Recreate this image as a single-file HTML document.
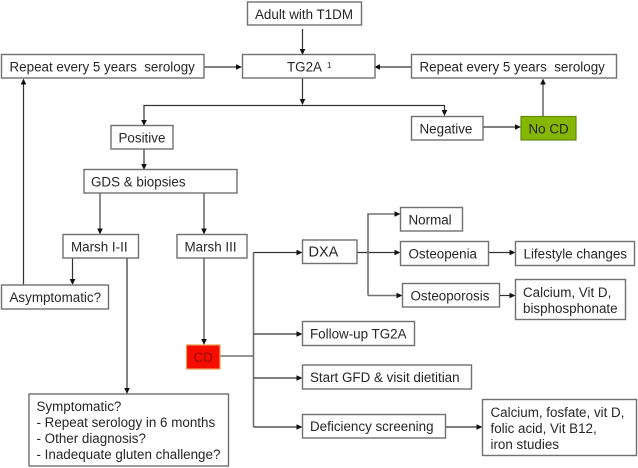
<!DOCTYPE html>
<html>
<head>
<meta charset="utf-8">
<style>
html,body{margin:0;padding:0;background:#fff;width:638px;height:468px;overflow:hidden}
svg{display:block}
text{font-family:"Liberation Sans",sans-serif;font-size:13.4px;fill:#262626}
.b{fill:#fff;stroke:#707070;stroke-width:1.4}
.l{fill:none;stroke:#333;stroke-width:1.2}
.g{fill:none;stroke:#707070;stroke-width:1.6}
.a{fill:#111;stroke:none}
</style>
</head>
<body>
<svg width="638" height="468" viewBox="0 0 638 468" xmlns="http://www.w3.org/2000/svg">
<!-- connectors -->
<path class="l" d="M302.5 29V50"/><path class="a" d="M302.5 55l-2.8-6h5.6z"/>
<path class="l" d="M204 67H237"/><path class="a" d="M242 67l-6-2.8v5.6z"/>
<path class="l" d="M411 67H378"/><path class="a" d="M374 67l6-2.8v5.6z"/>
<path class="l" d="M302.5 78V100"/><path class="a" d="M302.5 105l-2.8-6h5.6z"/>
<path class="l" d="M144 120V105.500H444.500V111"/><path class="a" d="M144 126l-2.800-6h5.600z"/><path class="a" d="M444.500 116l-2.800-6h5.600z"/>
<path class="l" d="M144 149V165"/><path class="a" d="M144 170l-2.800-6h5.600z"/>
<path class="g" d="M100 193V229"/><path class="a" d="M100 234.500l-2.800-6h5.600z"/>
<path class="g" d="M204 193V229"/><path class="a" d="M204 234.500l-2.800-6h5.600z"/>
<path class="l" d="M483 127H516"/><path class="a" d="M521 127l-6-2.800v5.600z"/>
<path class="g" d="M543 116V84"/><path class="a" d="M543 78.500l-2.800 6h5.600z"/>
<path class="l" d="M23.500 285V84"/><path class="a" d="M23.500 78.500l-2.800 6h5.600z"/>
<path class="l" d="M72.500 258V280"/><path class="a" d="M72.500 285l-2.800-6h5.600z"/>
<path class="l" d="M127 258V389"/><path class="a" d="M127 394l-2.800-6h5.600z"/>
<path class="g" d="M204 258V340"/><path class="a" d="M204 345l-2.800-6h5.600z"/>
<path class="g" d="M220 356H253.500"/>
<path class="g" d="M253.500 252.500V427"/>
<path class="l" d="M253.500 252.500H297"/><path class="a" d="M302.500 252.500l-6-2.800v5.600z"/>
<path class="l" d="M253.500 334H297"/><path class="a" d="M302.500 334l-6-2.800v5.600z"/>
<path class="l" d="M253.500 378H297"/><path class="a" d="M302.500 378l-6-2.800v5.600z"/>
<path class="l" d="M253.500 427H297"/><path class="a" d="M302.500 427l-6-2.800v5.600z"/>
<path class="l" d="M357 252.500H395"/><path class="a" d="M400.500 252.500l-6-2.800v5.600z"/>
<path class="g" d="M368 295.500V214H395"/><path class="a" d="M400.500 214l-6-2.800v5.600z"/>
<path class="g" d="M368 295.500H397"/><path class="a" d="M402.500 295.500l-6-2.800v5.600z"/>
<path class="l" d="M488.500 252.500H510"/><path class="a" d="M515.500 252.500l-6-2.800v5.600z"/>
<path class="l" d="M499.500 295.500H510"/><path class="a" d="M515.500 295.500l-6-2.800v5.600z"/>
<path class="l" d="M445.500 427H477"/><path class="a" d="M482.500 427l-6-2.800v5.600z"/>
<!-- boxes -->
<rect class="b" x="247.500" y="2" width="114" height="23"/>
<rect class="b" x="1.500" y="54.500" width="202.500" height="23.500"/>
<rect class="b" x="242.500" y="54.500" width="132.500" height="23.500"/>
<rect class="b" x="411.500" y="54.500" width="205" height="23.500"/>
<rect class="b" x="111" y="125.500" width="62" height="23.500"/>
<rect class="b" x="84" y="169.500" width="153" height="23.500"/>
<rect class="b" x="411.500" y="116.500" width="71.500" height="23.500"/>
<rect x="521" y="116.500" width="55" height="23.500" fill="#86b700" stroke="#5f8a10" stroke-width="1.2"/>
<rect class="b" x="400.500" y="207.500" width="62" height="23.500"/>
<rect class="b" x="63" y="234.500" width="75.500" height="23.500"/>
<rect class="b" x="177" y="234.500" width="70" height="23.500"/>
<rect class="b" x="302.500" y="240" width="54.500" height="23.500"/>
<rect class="b" x="400.500" y="241.500" width="88" height="24"/>
<rect class="b" x="515.500" y="241.500" width="119" height="24"/>
<rect class="b" x="402.500" y="283.500" width="97" height="23.500"/>
<rect class="b" x="515.500" y="279.500" width="110" height="40"/>
<rect class="b" x="1.500" y="285" width="107" height="24"/>
<rect x="186.500" y="345" width="33.500" height="24" fill="#f50d00" stroke="#e8a050" stroke-width="1.2"/>
<rect class="b" x="302.500" y="321.500" width="112" height="24"/>
<rect class="b" x="302.500" y="365" width="169" height="24"/>
<rect class="b" x="302.500" y="414.500" width="143" height="23.500"/>
<rect class="b" x="482.500" y="399.500" width="154" height="56"/>
<rect class="b" x="29" y="394" width="199.500" height="72"/>
<!-- labels -->
<text x="255" y="19" xml:space="preserve">Adult with T1DM</text>
<text x="9.500" y="71.500" xml:space="preserve">Repeat every 5 years  serology</text>
<text x="287" y="71.500">TG2A</text>
<text x="327" y="68" style="font-size:8px">1</text>
<text x="419.500" y="71.500" xml:space="preserve">Repeat every 5 years  serology</text>
<text x="118.500" y="142.500">Positive</text>
<text x="91" y="186.500">GDS &amp; biopsies</text>
<text x="419.500" y="133.500">Negative</text>
<text x="528.500" y="133.500">No CD</text>
<text x="408.500" y="224.500">Normal</text>
<text x="71" y="251.500">Marsh I-II</text>
<text x="184.500" y="251.500">Marsh III</text>
<text x="308.500" y="256.500" style="font-size:14.500px">DXA</text>
<text x="408.500" y="258.500">Osteopenia</text>
<text x="523.500" y="258.500">Lifestyle changes</text>
<text x="410.500" y="300.500">Osteoporosis</text>
<text x="523" y="297">Calcium, Vit D,</text>
<text x="523" y="313">bisphosphonate</text>
<text x="9.500" y="302">Asymptomatic?</text>
<text x="193.500" y="362" style="fill:#9c0a00">CD</text>
<text x="310" y="338.500">Follow-up TG2A</text>
<text x="310" y="382">Start GFD &amp; visit dietitian</text>
<text x="310" y="431">Deficiency screening</text>
<text x="490.500" y="417">Calcium, fosfate, vit D,</text>
<text x="490.500" y="433">folic acid, Vit B12,</text>
<text x="490.500" y="449">iron studies</text>
<text x="36.500" y="411">Symptomatic?</text>
<text x="36.500" y="427">- Repeat serology in 6 months</text>
<text x="36.500" y="443">- Other diagnosis?</text>
<text x="36.500" y="459">- Inadequate gluten challenge?</text>
</svg>
</body>
</html>
